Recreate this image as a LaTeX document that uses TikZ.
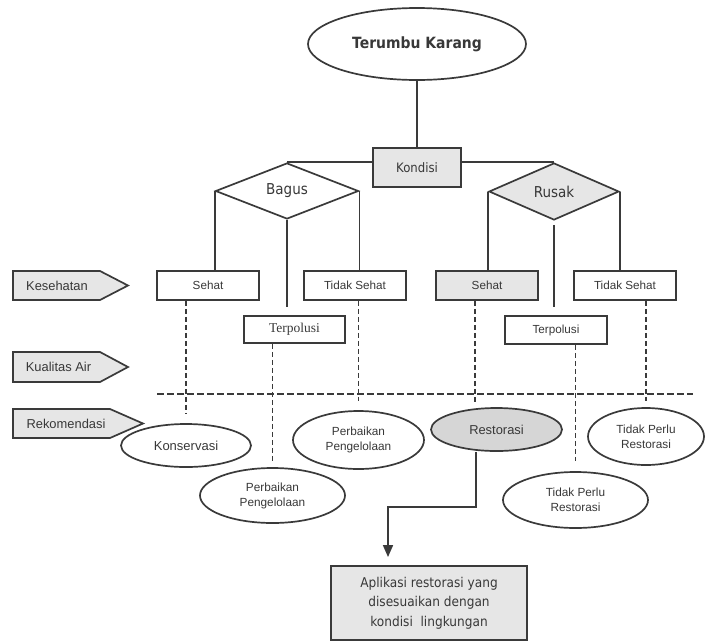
\documentclass[tikz,border=0pt]{standalone}
\usepackage{fontspec}
\setmainfont{Liberation Sans}
\newfontfamily\tahomaf[FakeStretch=0.9]{DejaVu Sans}
\newfontfamily\timesf{Liberation Serif}
\usetikzlibrary{shapes.geometric,arrows.meta}
\definecolor{ln}{HTML}{3A3A3A}
\definecolor{tx}{HTML}{383838}
\definecolor{fillA}{HTML}{E6E6E6}
\definecolor{fillB}{HTML}{D6D6D6}
\begin{document}
\begin{tikzpicture}[x=1pt,y=-1pt,
  box/.style={draw=ln, line width=1.8pt, rectangle, minimum width=102pt, minimum height=29pt, inner sep=0pt, text=tx, font=\fontsize{11.7}{13}\selectfont},
  oval/.style={draw=ln, line width=1.7pt, ellipse, inner sep=0pt, text=tx, align=center, font=\fontsize{11.8}{15}\selectfont},
  dia/.style={draw=ln, line width=1.7pt, diamond, inner sep=0pt, text=tx, font=\tahomaf\fontsize{15}{17}\selectfont},
  tag/.style={draw=ln, line width=1.7pt, fill=fillA},
  tagtext/.style={text=tx, inner sep=0pt, font=\fontsize{12.9}{14}\selectfont},
  conn/.style={draw=ln, line width=1.7pt},
  dline/.style={draw=ln, line width=1.5pt, dash pattern=on 5pt off 3pt},
  hdline/.style={draw=ln, line width=1.6pt, dash pattern=on 6.5pt off 3.5pt}
]
\useasboundingbox (0,0) rectangle (705,641);

% top
\node[draw=ln, line width=1.7pt, ellipse, minimum width=218pt, minimum height=72pt, inner sep=0pt, text=tx,
      font=\tahomaf\bfseries\fontsize{15.5}{17}\selectfont] (top) at (417,44) {Terumbu Karang};
\node[draw=ln, line width=1.8pt, fill=fillA, minimum width=88pt, minimum height=39pt, inner sep=0pt, text=tx,
      font=\tahomaf\fontsize{13}{15}\selectfont] (kondisi) at (417,167.5) {Kondisi};

\node[dia, minimum width=143pt, minimum height=56pt] (bagus) at (287,191) {Bagus};
\node[dia, fill=fillA, minimum width=130pt, minimum height=57pt] (rusak) at (554,191.5) {Rusak};

% level boxes
\node[box] (sehatL) at (208,285.5) {Sehat};
\node[box] (tsL) at (355,285.5) {Tidak Sehat};
\node[box, minimum width=101pt, minimum height=27pt, font=\timesf\fontsize{13.5}{15}\selectfont] (terpL) at (294.5,329.5) {Terpolusi};
\node[box, fill=fillA] (sehatR) at (487,285.5) {Sehat};
\node[box] (tsR) at (625,285.5) {Tidak Sehat};
\node[box, minimum height=28pt] (terpR) at (556,330) {Terpolusi};

% recommendation ellipses
\node[oval, minimum width=130pt, minimum height=43pt, font=\fontsize{13}{15}\selectfont] (kons) at (186,445.5) {Konservasi};
\node[oval, minimum width=131pt, minimum height=58pt] (perb1) at (358.5,440) {Perbaikan\\Pengelolaan};
\node[oval, minimum width=145pt, minimum height=55pt] (perb2) at (272.5,495.5) {Perbaikan\\Pengelolaan};
\node[oval, fill=fillB, minimum width=131pt, minimum height=43pt, font=\fontsize{12.9}{15}\selectfont] (resto) at (496.5,429.5) {Restorasi};
\node[oval, minimum width=116pt, minimum height=57pt] (tp1) at (646,436.5) {Tidak Perlu\\Restorasi};
\node[oval, minimum width=145pt, minimum height=56pt] (tp2) at (575.5,500) {Tidak Perlu\\Restorasi};

\node[draw=ln, line width=1.9pt, fill=fillA, minimum width=196pt, minimum height=74pt, inner sep=0pt, text=tx, align=center,
      font=\tahomaf\fontsize{13.5}{19.5}\selectfont] (apl) at (429,603) {Aplikasi restorasi yang\\disesuaikan dengan\\kondisi~~lingkungan};

% left tags
\draw[tag] (13,271) -- (100,271) -- (128,285.5) -- (100,300) -- (13,300) -- cycle;
\node[tagtext] (kes) at (57,285.5) {Kesehatan};
\draw[tag] (13,352) -- (100,352) -- (128,367) -- (100,382) -- (13,382) -- cycle;
\node[tagtext] (kual) at (58.5,367) {Kualitas Air};
\draw[tag] (13,409) -- (110,409) -- (143,423.5) -- (110,438) -- (13,438) -- cycle;
\node[tagtext] (rek) at (66,423.5) {Rekomendasi};

% solid connectors
\draw[conn] (top.south) -- (kondisi.north);
\draw[conn] (bagus.north) -- (bagus.north -| kondisi.west);
\draw[conn] (kondisi.east |- rusak.north) -- (rusak.north);
\draw[conn] (bagus.west) -- (bagus.west |- sehatL.north);
\draw[conn] (bagus.east) -- (bagus.east |- tsL.north);
\draw[conn, shorten >=8pt] (bagus.south) -- (bagus.south |- terpL.north);
\draw[conn] (rusak.west) -- (rusak.west |- sehatR.north);
\draw[conn] (rusak.east) -- (rusak.east |- tsR.north);
\draw[conn, shorten <=4pt, shorten >=8pt] (rusak.south) -- (rusak.south |- terpR.north);

% dashed connectors
\coordinate (hl) at (157,394);
\coordinate (hr) at (693,394);
\draw[hdline] (hl) -- (hr);
\draw[dline, shorten >=9pt] (kons.north |- sehatL.south) -- (kons.north);
\draw[dline, shorten >=6pt] (perb2.north |- terpL.south) -- (perb2.north);
\draw[dline, shorten >=9pt] (perb1.north |- tsL.south) -- (perb1.north);
\coordinate (r1) at (475,402);
\draw[dline] (r1 |- sehatR.south) -- (r1);
\draw[dline, shorten >=10pt] (tp2.north |- terpR.south) -- (tp2.north);
\draw[dline, shorten >=6pt] (tp1.north |- tsR.south) -- (tp1.north);

% restorasi arrow
\coordinate (bend) at (388,507);
\draw[conn, -{Triangle[length=12pt,width=10pt]}, shorten >=8pt]
  ([xshift=-20.5pt]resto.south) |- (bend) -- (bend |- apl.north);
\end{tikzpicture}
\end{document}
